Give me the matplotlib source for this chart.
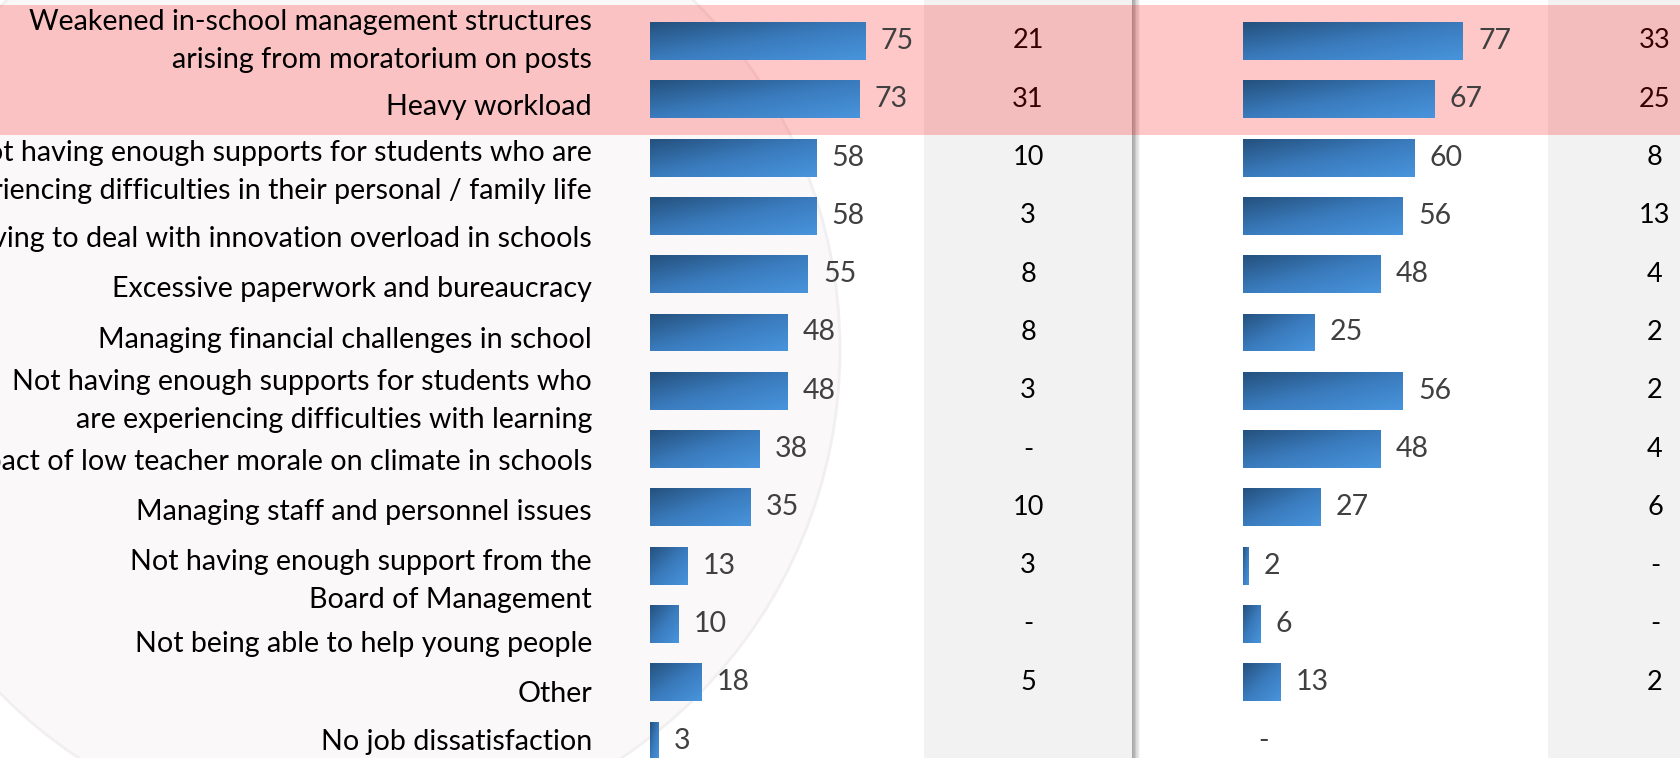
import numpy as np
import matplotlib.pyplot as plt
from matplotlib.patches import Circle, Rectangle, Arc
from matplotlib.colors import LinearSegmentedColormap

plt.rcParams['font.family'] = ['Lato', 'DejaVu Sans']

# survey items, top to bottom
categories = [
    "Weakened in-school management structures\narising from moratorium on posts",
    "Heavy workload",
    "Not having enough supports for students who are\nexperiencing difficulties in their personal / family life",
    "Having to deal with innovation overload in schools",
    "Excessive paperwork and bureaucracy",
    "Managing financial challenges in school",
    "Not having enough supports for students who\nare experiencing difficulties with learning",
    "Impact of low teacher morale on climate in schools",
    "Managing staff and personnel issues",
    "Not having enough support from the\nBoard of Management",
    "Not being able to help young people",
    "Other",
    "No job dissatisfaction",
]
pct_left = [75, 73, 58, 58, 55, 48, 48, 38, 35, 13, 10, 18, 3]
main_left = ["21", "31", "10", "3", "8", "8", "3", "-", "10", "3", "-", "5", ""]
pct_right = [77, 67, 60, 56, 48, 25, 56, 48, 27, 2, 6, 13, None]
main_right = ["33", "25", "8", "13", "4", "2", "2", "4", "6", "-", "-", "2", ""]

# small nudges of the wrapped category labels (pixels, downwards)
label_shift = [0, 8, 14, 23, 15, 8, 10, 13, 5, 15, 20, 12, 1]

W, H = 1680, 758
ROW0, PITCH = 41, 58.3
y_top = -ROW0 / PITCH
y_bot = y_top + H / PITCH

fig = plt.figure(figsize=(W / 100, H / 100), dpi=100)
fig.patch.set_facecolor("white")


def row_axes(left_px, width_px, z):
    ax = fig.add_axes([left_px / W, 0, width_px / W, 1])
    ax.set_ylim(y_bot, y_top)
    ax.axis("off")
    ax.set_zorder(z)
    return ax


# slide decoration + shaded table columns, in pixel units
deco = fig.add_axes([0, 0, 1, 1])
deco.set_xlim(0, W)
deco.set_ylim(H, 0)
deco.axis("off")
deco.set_zorder(0)
deco.add_patch(Circle((350, 350), 490, facecolor="#faf8f9", edgecolor="#f1efef", lw=2))
deco.add_patch(Arc((-260, 900), 900, 900, theta1=0, theta2=90, color="white", lw=7, alpha=0.9))
deco.add_patch(Arc((80, 1000), 1300, 1300, theta1=20, theta2=90, color="white", lw=5, alpha=0.8))
deco.add_patch(Rectangle((924, 0), 208, H, facecolor="#f2f2f2", lw=0))
for k, c in enumerate(["#a6a6a6", "#b4b4b4", "#c8c8c8", "#dcdcdc", "#ebebeb", "#f6f6f6"]):
    deco.add_patch(Rectangle((1132 + k * 1.4, 0), 1.4, H, facecolor=c, lw=0))
deco.add_patch(Rectangle((1548, 0), 140, H, facecolor="#f2f2f2", lw=0))

# table numbers, highlight band and category labels
tab = row_axes(0, W, 1)
tab.set_xlim(0, W)
for i in range(len(categories)):
    tab.text(1028, i, main_left[i], ha="center", va="center", fontsize=19.5, color="black", zorder=3)
    tab.text(1655, i, main_right[i], ha="center", va="center", fontsize=19.5, color="black", zorder=3)
    tab.text(592, i + label_shift[i] / PITCH, categories[i], ha="right", va="center",
             multialignment="right", fontsize=20.6, color="black", linespacing=1.58, zorder=6)
tab.axhspan(y_top + 5 / PITCH, y_top + 135 / PITCH, color="red", alpha=0.216, lw=0, zorder=5)
for x in [764, 1027, 1655]:
    tab.text(x, y_top + 3 / PITCH, "%", ha="center", va="bottom", fontsize=19,
             fontweight="bold", color="#262626", zorder=3)

bar_cmap = LinearSegmentedColormap.from_list("bar", ["#25527f", "#3a7bbd", "#4894dc"])
uu, vv = np.meshgrid(np.linspace(0, 1, 80), np.linspace(0, 1, 20))
grad = (uu + vv) / 2


def gradient_bars(ax, values):
    vals = [0 if v is None else v for v in values]
    bars = ax.barh(range(len(vals)), vals, height=0.65, color="none", lw=0)
    for bar, v, raw in zip(bars, vals, values):
        y0, h = bar.get_y(), bar.get_height()
        if v > 0:
            im = ax.imshow(grad, cmap=bar_cmap, aspect="auto", origin="upper",
                           extent=(0, v, y0 + h, y0), zorder=2)
            im.set_clip_path(bar)
        ax.annotate("-" if raw is None else str(raw), (v, y0 + h / 2), xytext=(11, 0),
                    textcoords="offset points", ha="left", va="center",
                    fontsize=20.5, color="#404040")
    ax.set_xlim(0, 100)
    ax.set_ylim(y_bot, y_top)


ax_left = row_axes(650, 287, 2)
gradient_bars(ax_left, pct_left)
ax_right = row_axes(1243, 285.5, 2)
gradient_bars(ax_right, pct_right)

fig.savefig("out.png", dpi=100, facecolor="white")
